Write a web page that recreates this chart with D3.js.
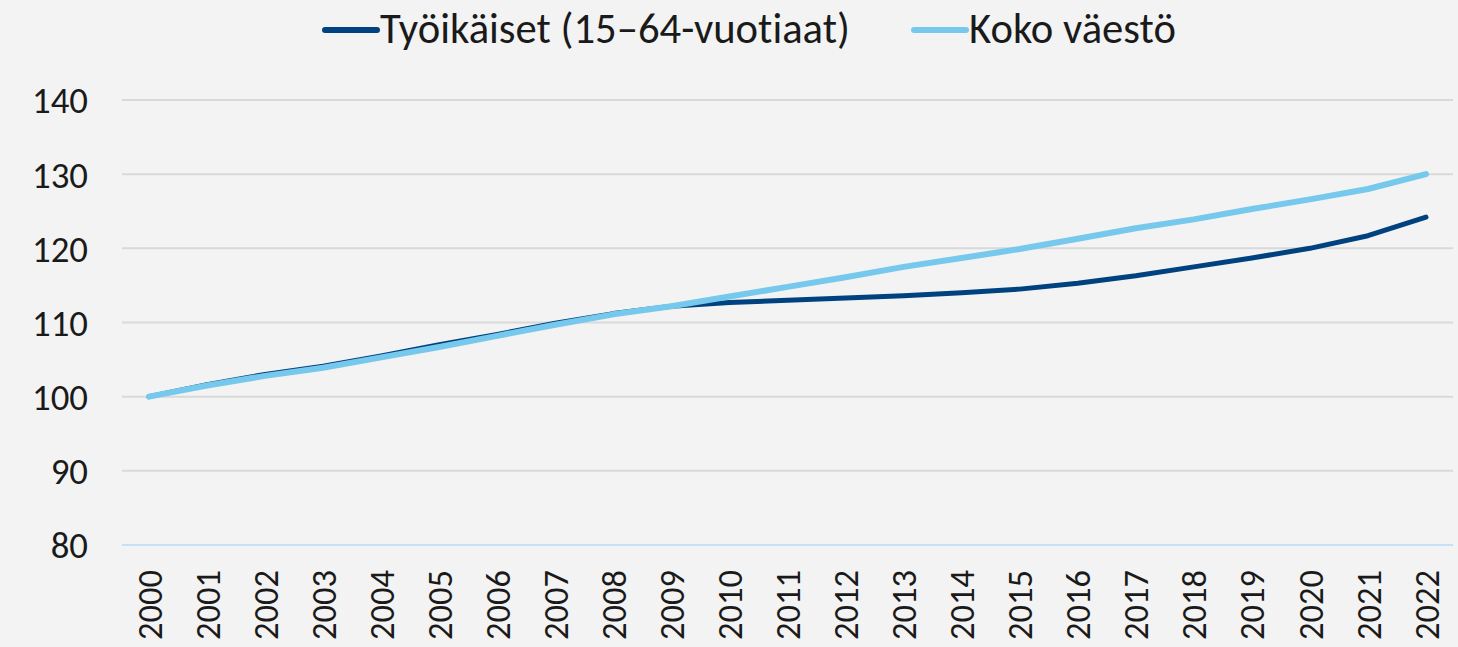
<!DOCTYPE html>
<html>
<head>
<meta charset="utf-8">
<script src="https://cdn.jsdelivr.net/npm/d3@7"></script>
<style>
  html, body { margin: 0; padding: 0; background: #f3f3f3; }
  svg { display: block; }
  text { font-family: Carlito, Calibri, Lato, "Open Sans", sans-serif; fill: #1a1a1a; font-variant-ligatures: none; font-feature-settings: "liga" 0, "clig" 0; }
</style>
</head>
<body>
<script>
const years = [2000,2001,2002,2003,2004,2005,2006,2007,2008,2009,2010,2011,2012,2013,2014,2015,2016,2017,2018,2019,2020,2021,2022];
const tyoikaiset = [100,101.6,103.0,104.1,105.5,107.0,108.4,109.9,111.2,112.2,112.7,113.0,113.3,113.6,114.0,114.5,115.3,116.3,117.5,118.7,120.0,121.7,124.2];
const kokoVaesto = [100,101.5,102.8,103.9,105.3,106.7,108.2,109.7,111.1,112.2,113.5,114.8,116.1,117.5,118.7,119.9,121.3,122.7,123.9,125.3,126.6,128.0,130.0];
const yTicks = [80,90,100,110,120,130,140];
const seriesNames = ["Työikäiset (15–64-vuotiaat)", "Koko väestö"];
const seriesColors = ["#00427f", "#76c9ec"];

const W = 1458, H = 647;
const svg = d3.select("body").append("svg").attr("width", W).attr("height", H);
svg.append("rect").attr("width", W).attr("height", H).attr("fill", "#f3f3f3");

const x = d3.scalePoint().domain(years).range([149, 1426]);
const y = d3.scaleLinear().domain([80, 140]).range([545, 100]);

function fitSize(str, targetW) {
  const t = svg.append("text").attr("font-size", 100).text(str);
  const w = t.node().getComputedTextLength();
  t.remove();
  return 100 * targetW / w;
}
const tickSize = Math.min(fitSize("2000", 70), 38);
const yTickSize = Math.min(fitSize("140", 56), 40);
const legendSize = fitSize(seriesNames[0], 470);
const fontFam = "Carlito, Calibri, Lato, 'Open Sans', sans-serif";

// gridlines
svg.append("g").selectAll("line").data(yTicks.filter(d => d > 80)).join("line")
  .attr("x1", 122).attr("x2", 1453)
  .attr("y1", d => y(d)).attr("y2", d => y(d))
  .attr("stroke", "#d9d9d9").attr("stroke-width", 2);

// y axis
const yAxis = d3.axisLeft(y).tickValues(yTicks).tickSize(0).tickPadding(0);
const gy = svg.append("g").attr("transform", "translate(88,0)").call(yAxis);
gy.select(".domain").remove();
gy.selectAll("text").attr("font-size", yTickSize).attr("fill", "#1a1a1a")
  .style("font-family", fontFam).attr("dy", "0.35em");

// x axis
const xAxis = d3.axisBottom(x).tickSize(0).tickPadding(0);
const gx = svg.append("g").attr("transform", "translate(0,545)").call(xAxis);
gx.select(".domain").attr("d", "M122,0H1453").attr("stroke", "#c6e1f7").attr("stroke-width", 2);
gx.selectAll("text")
  .attr("font-size", tickSize).attr("fill", "#1a1a1a")
  .style("font-family", fontFam)
  .attr("text-anchor", "end").attr("transform", "rotate(-90)")
  .attr("x", -25).attr("y", 0).attr("dy", "0.35em");

// lines
const line = d3.line().x((d, i) => x(years[i])).y(d => y(d));
[tyoikaiset, kokoVaesto].forEach((s, k) => {
  svg.append("path").datum(s).attr("d", line)
    .attr("fill", "none").attr("stroke", seriesColors[k])
    .attr("stroke-width", k === 0 ? 5 : 6)
    .attr("stroke-linejoin", "round").attr("stroke-linecap", "round");
});

// legend
const legendItems = [{x: 323, name: seriesNames[0], c: seriesColors[0]}, {x: 912, name: seriesNames[1], c: seriesColors[1]}];
const lg = svg.append("g");
legendItems.forEach(it => {
  lg.append("line").attr("x1", it.x + 2).attr("x2", it.x + 54).attr("y1", 30).attr("y2", 30)
    .attr("stroke", it.c).attr("stroke-width", 6).attr("stroke-linecap", "round");
  lg.append("text").attr("x", it.x + 57).attr("y", 43).attr("font-size", legendSize).text(it.name);
});
</script>
</body>
</html>
